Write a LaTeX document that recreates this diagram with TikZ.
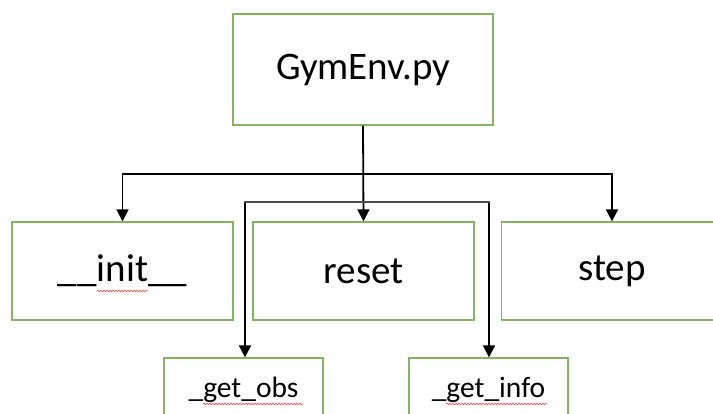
\documentclass[tikz,border=0pt]{standalone}
\usepackage{fontspec}
\setmainfont{Carlito}
\usetikzlibrary{arrows.meta,decorations.pathmorphing}
\definecolor{boxgreen}{RGB}{135,178,100}
\definecolor{bargray}{RGB}{75,75,75}
\tikzset{
  modbox/.style={draw=boxgreen, line width=1.3pt, fill=white, inner sep=0pt,
    font=\fontsize{39}{41}\selectfont},
  funbox/.style={draw=boxgreen, line width=1.3pt, fill=white, inner sep=0pt,
    font=\fontsize{29.5}{31}\selectfont},
  link/.style={draw=black, line width=1.8pt, -{Triangle[length=12pt,width=12pt]}},
  bar/.style={draw=bargray, line width=2.4pt},
  spell/.style={draw=red!80!white, line width=0.5pt,
    decorate, decoration={snake, amplitude=0.9pt, segment length=3pt}}
}
\begin{document}
\begin{tikzpicture}[x=1pt,y=-1pt]
  \useasboundingbox (0,0) rectangle (713,414);
  \clip (0,0) rectangle (713,414);
  \fill[white] (0,0) rectangle (713,414);

  % module and its methods
  \node[modbox, minimum width=260pt, minimum height=111pt] (gym) at (363,69.5) {GymEnv.py};
  \node[modbox, minimum width=221pt, minimum height=98pt] (init) at (122.5,271) {\_\_init\_\_};
  \node[modbox, minimum width=221pt, minimum height=98pt] (reset) at (363.5,271) {reset};
  \node[modbox, minimum width=221pt, minimum height=98pt] (step) at (612,271) {step};

  % helper functions
  \node[funbox, minimum width=159pt, minimum height=64pt] (obs) at (243.5,390) {\_get\_obs};
  \node[funbox, minimum width=159pt, minimum height=64pt] (info) at (488.5,390) {\_get\_info};

  % fan-out from the module
  \coordinate (split) at (363,174);
  \draw[link] (gym.south) -- (reset.north);
  \draw[link] (split) -| (init.north);
  \draw[link] (split) -| (step.north);

  % bracket feeding the helpers
  \coordinate (ba) at (245,202);
  \coordinate (bb) at (489,202);
  \draw[link] (ba) -- (ba |- obs.north);
  \draw[link] (bb) -- (bb |- info.north);
  \draw[bar] ([xshift=-0.9pt]ba) -- ([xshift=0.9pt]bb);

  % spell-check underlines
  \draw[spell] (97,291) -- (148,291);
  \draw[spell] (203,404) -- (303,404);
  \draw[spell] (446,404) -- (547,404);
\end{tikzpicture}
\end{document}
